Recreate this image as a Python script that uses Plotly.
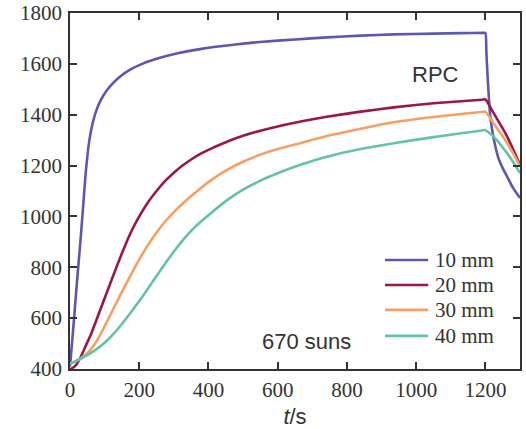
import plotly.graph_objects as go

# Temperature histories (°C) at 670 suns for four receiver depths
t_10 = [0, 10, 20, 30, 38, 46, 56, 66, 77, 90, 106, 125, 145, 175, 212, 260, 308, 380,
        472, 549, 650, 742, 839, 935, 1050, 1130, 1195, 1200, 1203, 1206, 1209, 1213,
        1219, 1228, 1238, 1250, 1263, 1280, 1300]
v_10 = [410, 570, 740, 900, 1040, 1180, 1300, 1370, 1420, 1460, 1495, 1525, 1550, 1578,
        1602, 1624, 1641, 1659, 1675, 1686, 1696, 1704, 1711, 1716, 1719, 1721, 1722,
        1722, 1640, 1560, 1490, 1410, 1345, 1280, 1228, 1190, 1156, 1112, 1072]

t_20 = [0, 15, 30, 45, 60, 75, 100, 125, 150, 175, 200, 225, 250, 275, 300, 325, 350,
        375, 400, 450, 500, 550, 600, 670, 742, 840, 935, 1050, 1130, 1190, 1200, 1205,
        1224, 1244, 1263, 1282, 1300]
v_20 = [398, 412, 445, 490, 535, 588, 678, 768, 855, 935, 1000, 1055, 1100, 1140, 1172,
        1200, 1224, 1245, 1262, 1292, 1317, 1337, 1354, 1374, 1392, 1412, 1429, 1445,
        1453, 1459, 1460, 1452, 1406, 1360, 1314, 1258, 1202]

t_30 = [0, 25, 50, 75, 100, 125, 150, 175, 200, 225, 250, 275, 300, 325, 350, 375, 400,
        450, 500, 550, 600, 670, 742, 840, 935, 1050, 1130, 1190, 1200, 1205, 1224, 1263,
        1282, 1300]
v_30 = [420, 437, 462, 505, 568, 636, 703, 768, 830, 887, 937, 980, 1017, 1050, 1080,
        1108, 1135, 1180, 1215, 1243, 1265, 1290, 1316, 1345, 1370, 1391, 1403, 1411,
        1412, 1405, 1366, 1288, 1244, 1196]

t_40 = [0, 25, 50, 75, 100, 125, 150, 175, 200, 225, 250, 275, 300, 325, 350, 375, 400,
        450, 500, 550, 600, 670, 742, 840, 935, 1050, 1130, 1190, 1200, 1205, 1224, 1263,
        1282, 1300]
v_40 = [420, 437, 455, 476, 503, 537, 577, 621, 667, 716, 766, 815, 862, 905, 943, 976,
        1005, 1060, 1105, 1141, 1170, 1205, 1235, 1265, 1288, 1312, 1327, 1338, 1340,
        1335, 1314, 1248, 1210, 1170]

series_names = ["10 mm", "20 mm", "30 mm", "40 mm"]
series_colors = ["#5c57b3", "#9a1848", "#f4a064", "#63c3a5"]
series_t = [t_10, t_20, t_30, t_40]
series_v = [v_10, v_20, v_30, v_40]

x_ticks = [0, 200, 400, 600, 800, 1000, 1200]
y_ticks = [400, 600, 800, 1000, 1200, 1400, 1600, 1800]

TEXT = "#333333"
SERIF = "Liberation Serif, Times New Roman, serif"
SANS = "Liberation Sans, Arial, sans-serif"

fig = go.Figure()
for name, color, tt, vv in zip(series_names, series_colors, series_t, series_v):
    fig.add_trace(go.Scatter(x=tt, y=vv, mode="lines", name=name, showlegend=False,
                             line=dict(color=color, width=2.6, shape="spline",
                                       smoothing=0.6)))

# Key in the lower right: a short swatch and a serif label per series
key_x0, key_x1, key_text_x = 0.700, 0.796, 0.806
key_rows = [0.306, 0.236, 0.166, 0.093]
shapes, annotations = [], []
for name, color, ky in zip(series_names, series_colors, key_rows):
    shapes.append(dict(type="line", xref="paper", yref="paper",
                       x0=key_x0, x1=key_x1, y0=ky, y1=ky,
                       line=dict(color=color, width=2.6)))
    annotations.append(dict(text=name, x=key_text_x, y=ky, xref="paper", yref="paper",
                            xanchor="left", yanchor="middle", showarrow=False,
                            font=dict(family=SERIF, size=21, color=TEXT)))

annotations += [
    dict(text="RPC", x=0.813, y=0.826, xref="paper", yref="paper", showarrow=False,
         xanchor="center", yanchor="middle",
         font=dict(family=SANS, size=22, color=TEXT)),
    dict(text="670 suns", x=0.526, y=0.078, xref="paper", yref="paper", showarrow=False,
         xanchor="center", yanchor="middle",
         font=dict(family=SANS, size=22, color=TEXT)),
]

axis_common = dict(
    showline=True, linecolor=TEXT, linewidth=1.6, mirror="ticks",
    ticks="inside", ticklen=7, tickwidth=1.6, tickcolor=TEXT,
    showgrid=False, zeroline=False, automargin=False,
    tickfont=dict(family=SERIF, size=21, color=TEXT),
)

fig.update_layout(
    width=526, height=429,
    margin=dict(l=70, r=6, t=13, b=60),
    paper_bgcolor="white", plot_bgcolor="white",
    showlegend=False,
    xaxis=dict(range=[0, 1300], tickvals=x_ticks, ticklabelstandoff=1,
               title=dict(text="<i>t</i>/s", standoff=14,
                          font=dict(family=SANS, size=22, color=TEXT)),
               **axis_common),
    yaxis=dict(range=[400, 1800], tickvals=y_ticks, ticklabelstandoff=2, **axis_common),
    shapes=shapes,
    annotations=annotations,
)

fig.write_html("out.html")
